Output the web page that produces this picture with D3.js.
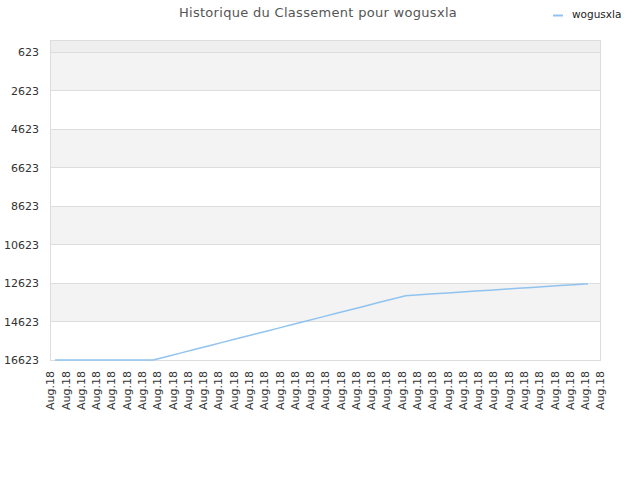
<!DOCTYPE html>
<html>
<head>
<meta charset="utf-8">
<script src="https://cdn.jsdelivr.net/npm/d3@7"></script>
<style>
  body { margin: 0; background: #fff; }
  text { font-family: "DejaVu Sans", sans-serif; }
</style>
</head>
<body>
<script>
// metrics
const width = 640, height = 480;
const plotLeft = 50, plotRight = 600, plotTop = 40, plotBottom = 360;

// data
const seriesName = 'wogusxla';
const ranks = [
    16623, 16623, 16623, 16623, 16623, 16623, 16623, 16623,
    16438, 16252, 16066, 15881, 15695, 15510, 15324, 15139,
    14953, 14768, 14582, 14396, 14211, 14025, 13840, 13654,
    13469, 13283, 13235, 13187, 13139, 13091, 13043, 12995,
    12947, 12899, 12852, 12804, 12756, 12708, 12660
];
const yTicks = [623, 2623, 4623, 6623, 8623, 10623, 12623, 14623, 16623];
const xLabels = d3.range(37).map(i => 'Aug.18');

// elements
const svg = d3.select('body').append('svg')
    .attr('width', width)
    .attr('height', height);

// scales
const x = d3.scaleLinear()
    .domain([-0.356, ranks.length - 1 + 0.855])
    .range([plotLeft, plotRight]);
const xLabel = d3.scalePoint()
    .domain(d3.range(xLabels.length))
    .range([plotLeft, plotRight]);
const y = d3.scaleLinear()
    .domain([0, 16623])
    .range([plotTop, plotBottom]);

// bands
const bandEdges = [0].concat(yTicks);
svg.append('g').selectAll('rect')
    .data(d3.pairs(bandEdges))
    .enter().append('rect')
    .attr('x', plotLeft)
    .attr('width', plotRight - plotLeft)
    .attr('y', d => y(d[0]))
    .attr('height', d => y(d[1]) - y(d[0]))
    .attr('fill', (d, i) => i === 0 ? '#eeeeee' : (i % 2 ? '#f3f3f3' : '#ffffff'));

// grid
svg.append('g').selectAll('line')
    .data(yTicks)
    .enter().append('line')
    .attr('x1', plotLeft).attr('x2', plotRight)
    .attr('y1', d => Math.round(y(d)) + 0.5).attr('y2', d => Math.round(y(d)) + 0.5)
    .attr('stroke', '#dddddd');

svg.append('rect')
    .attr('x', plotLeft + 0.5).attr('y', plotTop + 0.5)
    .attr('width', plotRight - plotLeft).attr('height', plotBottom - plotTop)
    .attr('fill', 'none')
    .attr('stroke', '#dddddd');

// y axis
svg.append('g')
    .attr('transform', `translate(${plotLeft - 11}, 0)`)
    .call(d3.axisLeft(y).tickValues(yTicks).tickSize(0).tickPadding(0).tickFormat(d3.format('d')))
    .call(g => g.select('.domain').remove())
    .selectAll('text')
    .attr('font-size', 11)
    .attr('fill', '#333')
    .attr('font-family', '"DejaVu Sans", sans-serif');

// x axis
svg.append('g')
    .attr('transform', `translate(0, ${plotBottom + 11})`)
    .call(d3.axisBottom(xLabel).tickSize(0).tickPadding(0).tickFormat(i => xLabels[i]))
    .call(g => g.select('.domain').remove())
    .selectAll('text')
    .attr('font-size', 11)
    .attr('fill', '#333')
    .attr('font-family', '"DejaVu Sans", sans-serif')
    .attr('text-anchor', 'end')
    .attr('dy', '0.35em')
    .attr('transform', 'rotate(-90)')
    .attr('x', 0).attr('y', 0);

// line
svg.append('path')
    .datum(ranks)
    .attr('fill', 'none')
    .attr('stroke', '#90c3f0')
    .attr('stroke-width', 1.5)
    .attr('d', d3.line().x((d, i) => x(i)).y(d => y(d)));

// title
svg.append('text')
    .attr('x', 318).attr('y', 17)
    .attr('text-anchor', 'middle')
    .attr('font-size', 13)
    .attr('fill', '#555')
    .attr('letter-spacing', 0.3)
    .text('Historique du Classement pour ' + seriesName);

// legend
svg.append('line')
    .attr('x1', 553).attr('x2', 563)
    .attr('y1', 15.5).attr('y2', 15.5)
    .attr('stroke', '#90c3f0').attr('stroke-width', 2);
svg.append('text')
    .attr('x', 572).attr('y', 18)
    .attr('font-size', 10.5)
    .attr('fill', '#222')
    .text(seriesName);
</script>
</body>
</html>
